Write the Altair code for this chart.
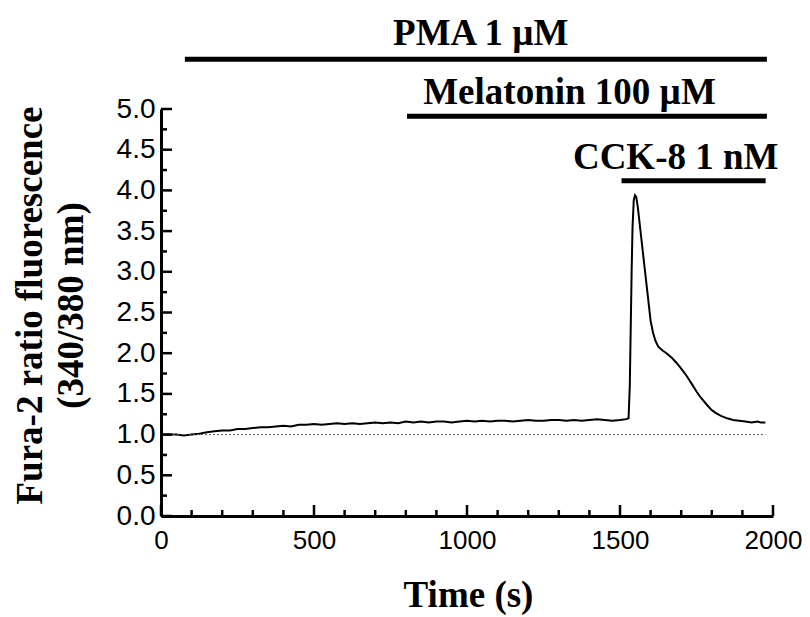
import altair as alt
import pandas as pd

# ---- trace data (Time s, Fura-2 ratio) ----
time_s = [0, 25, 50, 75, 100, 125, 150, 175, 200, 225, 250, 275, 300, 325, 350, 375,
          400, 425, 450, 475, 500, 525, 550, 575, 600, 625, 650, 675, 700, 725, 750,
          775, 800, 825, 850, 875, 900, 925, 950, 975, 1000, 1025, 1050, 1075, 1100,
          1125, 1150, 1175, 1200, 1225, 1250, 1275, 1300, 1325, 1350, 1375, 1400,
          1425, 1450, 1475, 1500, 1520, 1528,
          1532, 1535, 1538, 1541, 1545, 1549, 1553, 1558, 1564, 1570, 1576, 1582,
          1588, 1594, 1600, 1608, 1616, 1625, 1640, 1652, 1670, 1685, 1700, 1718,
          1735, 1750, 1765, 1783, 1800, 1815, 1830, 1850, 1870, 1890, 1910, 1930,
          1950, 1960, 1975]
ratio = [1.00, 1.00, 1.00, 0.99, 1.00, 1.01, 1.03, 1.04, 1.05, 1.05, 1.07, 1.07, 1.08,
         1.09, 1.09, 1.10, 1.11, 1.10, 1.12, 1.12, 1.13, 1.12, 1.13, 1.14, 1.13, 1.14,
         1.13, 1.14, 1.15, 1.14, 1.15, 1.14, 1.16, 1.15, 1.16, 1.15, 1.16, 1.16, 1.15,
         1.16, 1.17, 1.16, 1.17, 1.16, 1.17, 1.17, 1.16, 1.17, 1.18, 1.17, 1.17, 1.18,
         1.18, 1.17, 1.18, 1.17, 1.18, 1.19, 1.18, 1.17, 1.18, 1.19, 1.20,
         1.60, 2.30, 3.00, 3.55, 3.88, 3.94, 3.92, 3.80, 3.60, 3.40, 3.20, 3.00,
         2.80, 2.60, 2.40, 2.25, 2.15, 2.08, 2.03, 2.00, 1.94, 1.88, 1.81, 1.72,
         1.62, 1.53, 1.45, 1.37, 1.30, 1.26, 1.23, 1.20, 1.18, 1.17, 1.16, 1.15,
         1.16, 1.15, 1.15]

# ---- treatment bars ----
bar_labels = ["PMA 1 \u00b5M", "Melatonin 100 \u00b5M", "CCK-8 1 nM"]
bar_start = [78, 804, 1505]
bar_end = [1980, 1980, 1976]
bar_level = [5.61, 4.91, 4.12]
label_center = [1045, 1335, 1682]
label_level = [5.79, 5.06, 4.26]

# ---- axis ticks ----
x_major = [0, 500, 1000, 1500, 2000]
x_minor = [100, 200, 300, 400, 600, 700, 800, 900, 1100, 1200, 1300, 1400,
           1600, 1700, 1800, 1900]
y_major = [0.0, 0.5, 1.0, 1.5, 2.0, 2.5, 3.0, 3.5, 4.0, 4.5, 5.0]
y_minor = [0.25, 0.75, 1.25, 1.75, 2.25, 2.75, 3.25, 3.75, 4.25, 4.75]

baseline_start, baseline_end, baseline_level = 0, 1975, 1.0

W, H = 612, 407
xs = alt.Scale(domain=[0, 2000], nice=False, zero=False)
ys = alt.Scale(domain=[0, 5], nice=False, zero=False)

serif = "Liberation Serif"
sans = "Liberation Sans"
XT = "Time (s)"
YT = ["Fura-2 ratio fluorescence", "(340/380 nm)"]

x_axis = alt.Axis(values=x_major, format="d", title=XT,
                  ticks=False, tickSize=0, grid=False, labelFlush=False,
                  domainColor="black", domainWidth=3,
                  labelFont=sans, labelFontSize=26, labelColor="black",
                  labelPadding=11,
                  titleFont=serif, titleFontSize=37, titleFontWeight="bold",
                  titleColor="black", titleX=307, titleY=90,
                  titleAlign="center", titleBaseline="alphabetic")
y_axis = alt.Axis(values=y_major, format=".1f", title=YT,
                  ticks=False, tickSize=0, grid=False, labelFlush=False,
                  domainColor="black", domainWidth=3,
                  labelFont=sans, labelFontSize=28, labelColor="black",
                  labelPadding=6,
                  titleFont=serif, titleFontSize=37, titleFontWeight="bold",
                  titleColor="black", titleAngle=270, titleX=-120, titleY=196,
                  titleAlign="center", titleBaseline="alphabetic",
                  titleLineHeight=41)

trace_df = pd.DataFrame({"t": time_s, "r": ratio})
bars_df = pd.DataFrame({"label": bar_labels, "s": bar_start, "e": bar_end,
                        "lvl": bar_level, "c": label_center, "ll": label_level})


def X(field):
    return alt.X(field, scale=xs, axis=x_axis, title=XT)


def Y(field):
    return alt.Y(field, scale=ys, axis=y_axis, title=YT)


trace = alt.Chart(trace_df).mark_line(color="black", strokeWidth=2).encode(
    x=X("t:Q"), y=Y("r:Q"))

dotted = alt.Chart(pd.DataFrame({"t": [baseline_start], "e": [baseline_end],
                                 "r": [baseline_level]})).mark_rule(
    color="#555555", strokeWidth=1, strokeDash=[2, 2]).encode(
    x=X("t:Q"), x2="e:Q", y=Y("r:Q"))

bars = alt.Chart(bars_df).mark_rule(color="black", strokeWidth=5).encode(
    x=X("s:Q"), x2="e:Q", y=Y("lvl:Q"))

labels = alt.Chart(bars_df).mark_text(font=serif, fontSize=37, fontWeight="bold",
                                      color="black", align="center",
                                      baseline="alphabetic").encode(
    x=X("c:Q"), y=Y("ll:Q"), text="label:N")


def xticks(vals, length):
    return alt.Chart(pd.DataFrame({"v": vals})).mark_rule(
        color="black", strokeWidth=2.5).encode(
        x=X("v:Q"), y=alt.value(H), y2=alt.value(H - length))


def yticks(vals, length):
    return alt.Chart(pd.DataFrame({"v": vals})).mark_rule(
        color="black", strokeWidth=2.5).encode(
        y=Y("v:Q"), x=alt.value(0), x2=alt.value(length))


chart = alt.layer(
    trace, dotted, bars, labels,
    xticks(x_major, 11), xticks(x_minor, 6),
    yticks(y_major, 11), yticks(y_minor, 6),
).properties(
    width=W, height=H,
    autosize=alt.AutoSizeParams(type="none"),
    padding={"left": 153, "top": 101, "right": 29, "bottom": 100},
).configure_view(strokeWidth=0)

chart.save("out.html", embed_options={"renderer": "svg", "actions": False})
